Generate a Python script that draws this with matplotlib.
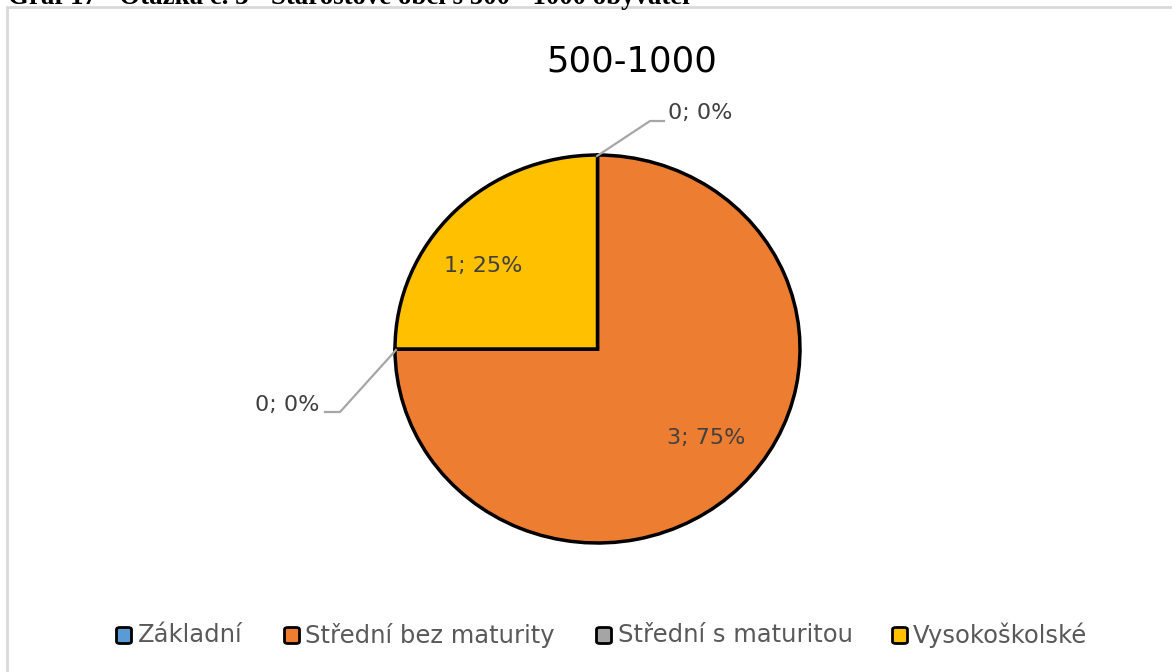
import matplotlib
matplotlib.use("Agg")
import matplotlib.pyplot as plt
from matplotlib.patches import Rectangle, FancyBboxPatch
import numpy as np

categories = ["Základní", "Střední bez maturity", "Střední s maturitou", "Vysokoškolské"]
values = [0, 3, 0, 1]
colors = ["#5B9BD5", "#ED7D31", "#A5A5A5", "#FFC000"]
title = "500-1000"
caption = "Graf 17 - Otázka č. 3 - Starostové obcí s 500 - 1000 obyvatel"

W, H = 1172, 672
fig = plt.figure(figsize=(W / 100, H / 100), dpi=100)
plt.rcParams['font.family'] = ['DejaVu Sans']

# pie geometry in pixels
cx, cy_top = 597.5, 349.0
rx, ry = 202.5, 194.0

ax = fig.add_axes([0, 0, 1, 1])
wedges, _ = ax.pie(values, colors=colors, startangle=90, counterclock=False,
                   wedgeprops=dict(edgecolor="black", linewidth=2.5), normalize=True)
ax.set_aspect('auto')
ax.set_xlim(-cx / rx, (W - cx) / rx)
ax.set_ylim(-(H - cy_top) / ry, cy_top / ry)
ax.axis('off')

def px(x, y):
    return ((x - cx) / rx, (cy_top - y) / ry)

total = sum(values)
label_txt = [f"{v}; {round(100 * v / total)}%" for v in values]
txtcol = "#404040"
fs_lab = 16

leader = "#A6A6A6"
# Základní (0) at top
x0, y0 = px(597, 156); x1, y1 = px(650, 121); x2, y2 = px(664, 121)
ax.plot([x0, x1, x2], [y0, y1, y2], color=leader, lw=1.6, zorder=1)
tx, ty = px(668, 113)
ax.text(tx, ty, label_txt[0], ha='left', va='center', fontsize=fs_lab, color=txtcol)
# Střední s maturitou (0) at left
x0, y0 = px(396, 350); x1, y1 = px(340, 412); x2, y2 = px(325, 412)
ax.plot([x0, x1, x2], [y0, y1, y2], color=leader, lw=1.6, zorder=1)
tx, ty = px(319, 405)
ax.text(tx, ty, label_txt[2], ha='right', va='center', fontsize=fs_lab, color=txtcol)
# inner labels
tx, ty = px(483, 266)
ax.text(tx, ty, label_txt[3], ha='center', va='center', fontsize=fs_lab, color=txtcol)
tx, ty = px(706, 438)
ax.text(tx, ty, label_txt[1], ha='center', va='center', fontsize=fs_lab, color=txtcol)

# title
fig.text(632 / W, 1 - 61 / H, title, ha='center', va='center', fontsize=25.5, color="black")

# border frame
fig.add_artist(Rectangle((7 / W, -0.1), 1.2, (H - 7) / H + 0.1, transform=fig.transFigure,
                         fill=False, edgecolor="#D9D9D9", lw=2))

# caption (clipped at the top edge as in the source)
cap = fig.text(8 / W, 1 - 4.5 / H, caption, ha='left', va='baseline', fontsize=17,
               fontweight='bold', family='Liberation Serif', color='black')
fig.canvas.draw()
wpx = cap.get_window_extent().width
cap.set_fontsize(17 * 682 / wpx)

# legend
leg_sq = [115, 283, 595, 891]
leg_tx = [138, 305, 618, 913]
for xs, xt, cat, col in zip(leg_sq, leg_tx, categories, colors):
    fig.add_artist(FancyBboxPatch(((xs + 1.5) / W, 1 - 643.5 / H), 15 / W, 16 / H,
                                  boxstyle="round,pad=0,rounding_size=0.003",
                                  transform=fig.transFigure,
                                  facecolor=col, edgecolor='black', lw=2))
    fig.text(xt / W, 1 - 635 / H, cat, ha='left', va='center', fontsize=17.5, color="#595959")

fig.savefig("out.png", dpi=100)
